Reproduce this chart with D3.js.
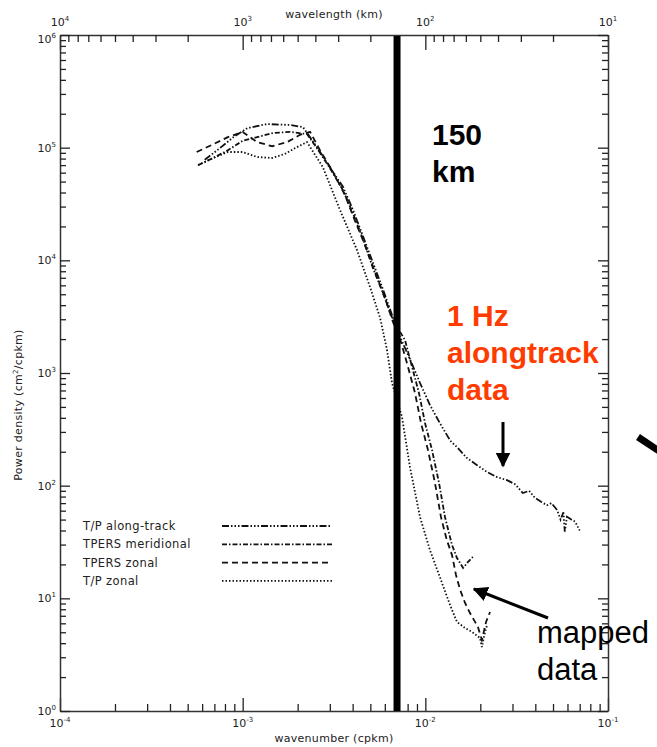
<!DOCTYPE html>
<html>
<head>
<meta charset="utf-8">
<script src="https://cdn.jsdelivr.net/npm/d3@7"></script>
<style>
  body { margin: 0; background: #fff; }
  svg { display: block; }
</style>
</head>
<body>
<script>
// spectra: [wavenumber (cpkm), power density (cm^2/cpkm)]
const alongTrack = [
  [6.2e-4, 7.8e4], [7.5e-4, 9.9e4], [8.9e-4, 1.24e5], [1.06e-3, 1.49e5], [1.36e-3, 1.62e5],
  [1.82e-3, 1.59e5], [2.14e-3, 1.52e5], [2.55e-3, 1.01e5], [3.0e-3, 6.7e4], [3.54e-3, 4.5e4],
  [4.02e-3, 2.8e4], [4.56e-3, 1.63e4], [5.17e-3, 9.5e3], [5.87e-3, 5.5e3], [6.65e-3, 3.1e3],
  [7.27e-3, 2.1e3], [8.46e-3, 1.2e3], [9.35e-3, 815], [1.06e-2, 520], [1.2e-2, 360],
  [1.37e-2, 250], [1.49e-2, 220], [1.69e-2, 176], [1.92e-2, 152], [2.18e-2, 132],
  [2.47e-2, 119], [2.8e-2, 112], [3.1e-2, 103], [3.42e-2, 86], [3.7e-2, 90],
  [3.98e-2, 78], [4.3e-2, 72], [4.63e-2, 67], [4.9e-2, 70], [5.26e-2, 61],
  [5.5e-2, 50], [5.7e-2, 58], [5.8e-2, 39], [5.96e-2, 53], [6.3e-2, 50],
  [6.6e-2, 48], [7.0e-2, 40]
];
const tpersMeridional = [
  [5.7e-4, 7.0e4], [6.9e-4, 8.1e4], [8.3e-4, 9.5e4], [1.0e-3, 1.15e5], [1.2e-3, 1.24e5],
  [1.47e-3, 1.35e5], [1.82e-3, 1.38e5], [2.25e-3, 1.32e5], [2.55e-3, 9.9e4], [3.0e-3, 6.6e4],
  [3.54e-3, 4.2e4], [4.02e-3, 2.6e4], [4.56e-3, 1.54e4], [5.17e-3, 8.5e3], [5.87e-3, 5.1e3],
  [6.65e-3, 2.95e3], [7.74e-3, 1.96e3], [8.46e-3, 1.13e3], [9.23e-3, 664], [9.96e-3, 360],
  [1.088e-2, 207], [1.188e-2, 106], [1.281e-2, 52.7], [1.4e-2, 29.7], [1.49e-2, 22.8],
  [1.61e-2, 18.6], [1.71e-2, 21], [1.82e-2, 23.3]
];
const tpersZonal = [
  [5.6e-4, 9.15e4], [6.8e-4, 1.06e5], [8.3e-4, 1.24e5], [1.0e-3, 1.38e5], [1.2e-3, 1.12e5],
  [1.45e-3, 1.03e5], [1.75e-3, 1.12e5], [2.06e-3, 1.3e5], [2.34e-3, 1.38e5], [2.65e-3, 9.5e4],
  [3.12e-3, 6.1e4], [3.63e-3, 3.8e4], [4.12e-3, 2.24e4], [4.67e-3, 1.37e4], [5.3e-3, 7.9e3],
  [6.02e-3, 4.6e3], [6.65e-3, 2.84e3], [7.36e-3, 1.88e3], [8.04e-3, 1.13e3], [8.78e-3, 664],
  [9.47e-3, 360], [1.034e-2, 207], [1.129e-2, 106], [1.218e-2, 52.7], [1.31e-2, 33],
  [1.4e-2, 24.2], [1.472e-2, 16.1], [1.55e-2, 11.9], [1.65e-2, 9.09], [1.756e-2, 7.4],
  [1.94e-2, 5.57], [2.04e-2, 4.27], [2.15e-2, 6.17], [2.26e-2, 7.56]
];
const tpZonal = [
  [5.7e-4, 7.0e4], [6.9e-4, 8.1e4], [8.3e-4, 9.15e4], [1.0e-3, 9.15e4], [1.2e-3, 8.26e4],
  [1.45e-3, 8.1e4], [1.7e-3, 8.8e4], [1.98e-3, 1.01e5], [2.25e-3, 1.12e5], [2.75e-3, 6.7e4],
  [3.41e-3, 2.8e4], [4.22e-3, 1.24e4], [4.98e-3, 5.8e3], [5.65e-3, 3.1e3], [6.17e-3, 1.6e3],
  [6.57e-3, 815], [7.45e-3, 407], [8.24e-3, 146], [9.35e-3, 52.7], [1.06e-2, 26.8],
  [1.2e-2, 15.5], [1.365e-2, 8.73], [1.49e-2, 6.17], [1.65e-2, 5.45], [1.8e-2, 5.03],
  [1.99e-2, 4.45], [2.04e-2, 3.7], [2.12e-2, 5.0], [2.18e-2, 5.8]
];

const seriesNames = ["T/P along-track", "TPERS meridional", "TPERS zonal", "T/P zonal"];
const kExps = [-4, -3, -2, -1];        // wavenumber decades (bottom)
const lambdaExps = [4, 3, 2, 1];       // wavelength decades (top)
const pExps = [0, 1, 2, 3, 4, 5, 6];   // power decades (left)
const cutoffK = 0.0070;                // the thick "150 km" marker

const W = 657, H = 747;
const L = 60, R = 608, T = 35, B = 711;

const svg = d3.select("body").append("svg")
  .attr("width", W).attr("height", H)
  .style("font-family", "'DejaVu Sans', sans-serif");

const x = d3.scaleLog().domain([1e-4, 1e-1]).range([L, R]);
const xTop = d3.scaleLog().domain([1e4, 10]).range([L, R]);
const y = d3.scaleLog().domain([1, 1e6]).range([B, T]);

// all 1..9 x 10^e values between two decades
function logTicks(e0, e1) {
  const out = [];
  for (let e = e0; e <= e1; e++) {
    for (let m = 1; m <= 9; m++) {
      if (e === e1 && m > 1) break;
      out.push(+(m * Math.pow(10, e)).toPrecision(3));
    }
  }
  return out;
}
function isMajor(v) {
  const l = Math.log10(v);
  return Math.abs(l - Math.round(l)) < 1e-6;
}

function styleAxis(g, major, minor, attr, sign) {
  g.select(".domain").attr("stroke", "#333").attr("stroke-width", 1.5);
  g.selectAll(".tick line")
    .attr("stroke", "#222").attr("stroke-width", 1.3)
    .attr(attr, d => sign * (isMajor(d) ? major : minor));
}

const kTicks = logTicks(-4, -1);
const lTicks = logTicks(1, 4);
const pTicks = logTicks(0, 6);

svg.append("g").attr("transform", `translate(0,${B})`)
  .call(d3.axisBottom(x).tickValues(kTicks).tickFormat("").tickSizeOuter(0))
  .call(g => styleAxis(g, 13, 7, "y2", -1));
svg.append("g").attr("transform", `translate(0,${T})`)
  .call(d3.axisTop(xTop).tickValues(lTicks).tickFormat("").tickSizeOuter(0))
  .call(g => styleAxis(g, 15, 7, "y2", 1));
svg.append("g").attr("transform", `translate(${L},0)`)
  .call(d3.axisLeft(y).tickValues(pTicks).tickFormat("").tickSizeOuter(0))
  .call(g => styleAxis(g, 10, 6, "x2", 1));
svg.append("g").attr("transform", `translate(${R},0)`)
  .call(d3.axisRight(y).tickValues(pTicks).tickFormat("").tickSizeOuter(0))
  .call(g => styleAxis(g, 10, 6, "x2", -1));

// "10^n" labels
function powLabel(px, py, exp, anchor) {
  const t = svg.append("text").attr("x", px).attr("y", py)
    .attr("text-anchor", anchor).attr("font-size", 11).attr("fill", "#222")
    .text("10");
  t.append("tspan").attr("dy", -5).attr("font-size", 7).text(exp);
}
kExps.forEach(e => powLabel(x(Math.pow(10, e)), 727, e, "middle"));
lambdaExps.forEach(e => powLabel(xTop(Math.pow(10, e)), 26, e, "middle"));
pExps.forEach(e => powLabel(56, y(Math.pow(10, e)) + (e === 6 ? 8 : 4), e, "end"));

svg.append("text").attr("x", 334).attr("y", 742).attr("text-anchor", "middle")
  .attr("font-size", 11).attr("fill", "#222").attr("letter-spacing", 0.3)
  .text("wavenumber (cpkm)");
svg.append("text").attr("x", 334).attr("y", 18).attr("text-anchor", "middle")
  .attr("font-size", 11).attr("fill", "#222").attr("letter-spacing", 0.3)
  .text("wavelength (km)");
const yt = svg.append("text").attr("transform", "translate(22,405) rotate(-90)")
  .attr("text-anchor", "middle").attr("font-size", 11).attr("fill", "#222")
  .attr("letter-spacing", 0.3).text("Power density (cm");
yt.append("tspan").attr("dy", -4).attr("font-size", 7).text("2");
yt.append("tspan").attr("dy", 4).text("/cpkm)");

// spectra
const dashes = ["7,2,1.5,2,1.5,2,1.5,2", "5,2,1.5,2", "6,4", "1.5,2"];
const allSeries = [alongTrack, tpersMeridional, tpersZonal, tpZonal];
const line = d3.line().x(d => x(d[0])).y(d => y(d[1]));

svg.append("g").selectAll("path")
  .data(allSeries)
  .join("path")
  .attr("d", line)
  .attr("fill", "none")
  .attr("stroke", "#111")
  .attr("stroke-width", 1.8)
  .attr("stroke-dasharray", (d, i) => dashes[i]);

// legend
const leg = svg.append("g");
seriesNames.forEach((name, i) => {
  const ly = 526 + i * 18.3;
  leg.append("text").attr("x", 83).attr("y", ly + 4)
    .attr("font-size", 11.5).attr("fill", "#222").attr("letter-spacing", 0.4)
    .text(name);
  leg.append("line").attr("x1", 222).attr("x2", 332).attr("y1", ly).attr("y2", ly)
    .attr("stroke", "#111").attr("stroke-width", 1.8)
    .attr("stroke-dasharray", dashes[i]);
});

// 150 km marker
svg.append("line")
  .attr("x1", x(cutoffK)).attr("x2", x(cutoffK))
  .attr("y1", T + 1).attr("y2", B)
  .attr("stroke", "#000").attr("stroke-width", 7);

const bold = "'Liberation Sans', Arial, sans-serif";
svg.append("text").attr("x", 432).attr("y", 145).attr("font-family", bold)
  .attr("font-weight", "bold").attr("font-size", 30).text("150");
svg.append("text").attr("x", 432).attr("y", 182).attr("font-family", bold)
  .attr("font-weight", "bold").attr("font-size", 30).text("km");

["1 Hz", "alongtrack", "data"].forEach((s, i) => {
  svg.append("text").attr("x", 447).attr("y", 326 + i * 37)
    .attr("font-family", bold).attr("font-weight", "bold")
    .attr("font-size", 30).attr("fill", "#ff3c00").text(s);
});
["mapped", "data"].forEach((s, i) => {
  svg.append("text").attr("x", 537).attr("y", 643 + i * 37)
    .attr("font-family", bold).attr("font-size", 31).attr("fill", "#000").text(s);
});

// arrows
svg.append("defs").append("marker")
  .attr("id", "head").attr("viewBox", "0 0 10 10")
  .attr("refX", 9).attr("refY", 5)
  .attr("markerWidth", 5).attr("markerHeight", 5)
  .attr("markerUnits", "strokeWidth").attr("orient", "auto")
  .append("path").attr("d", "M0,0 L10,5 L0,10 z").attr("fill", "#000");

svg.append("line").attr("x1", 503).attr("y1", 422).attr("x2", 503).attr("y2", 466)
  .attr("stroke", "#000").attr("stroke-width", 3).attr("marker-end", "url(#head)");
svg.append("line").attr("x1", 548).attr("y1", 618).attr("x2", 474).attr("y2", 589)
  .attr("stroke", "#000").attr("stroke-width", 3).attr("marker-end", "url(#head)");

// stray segment cut off at the right edge
svg.append("line").attr("x1", 638).attr("y1", 437).attr("x2", 662).attr("y2", 453)
  .attr("stroke", "#000").attr("stroke-width", 7);
</script>
</body>
</html>
